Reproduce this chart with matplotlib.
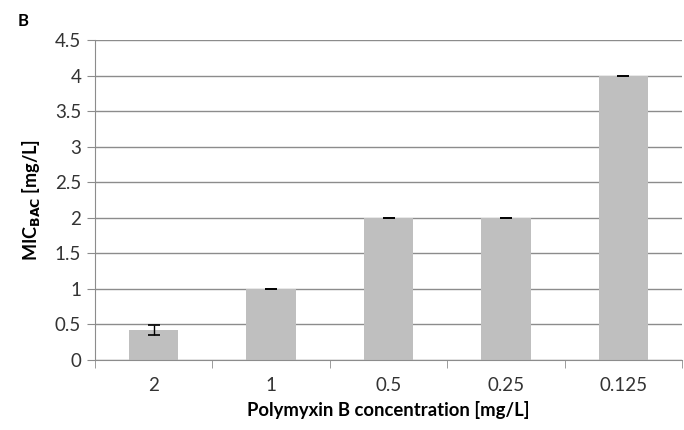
import matplotlib.pyplot as plt
import numpy as np

plt.rcParams['font.family'] = ['Lato', 'DejaVu Sans']

concentrations = ['2', '1', '0.5', '0.25', '0.125']
mic_values = [0.42, 1.0, 2.0, 2.0, 4.0]
mic_errors = [0.07, 0.0, 0.0, 0.0, 0.0]
y_ticks = [0, 0.5, 1, 1.5, 2, 2.5, 3, 3.5, 4, 4.5]

fig = plt.figure(figsize=(6.84, 4.30), dpi=100)
ax = fig.add_axes([0.139, 0.163, 0.858, 0.744])

x = np.arange(len(concentrations))
ax.bar(x, mic_values, width=0.42, color='#bfbfbf', zorder=2,
       yerr=mic_errors, capsize=4,
       error_kw={'ecolor': 'black', 'elinewidth': 1, 'capthick': 1.2})

ax.set_xlim(-0.5, len(concentrations) - 0.5)
ax.set_ylim(0, 4.5)
ax.set_yticks(y_ticks)
ax.set_yticklabels([f'{t:g}' for t in y_ticks], fontsize=13.5, color='#333333')
ax.yaxis.grid(True, color='#8c8c8c', linewidth=1, zorder=0)

ax.set_xticks(x)
ax.set_xticklabels(concentrations, fontsize=13.5, color='#333333')
ax.tick_params(axis='x', length=0, pad=12)
ax.set_xticks(np.arange(len(concentrations) + 1) - 0.5, minor=True)
ax.tick_params(axis='x', which='minor', length=6, color='#8c8c8c')
ax.tick_params(axis='y', length=6, color='#8c8c8c', pad=4)

for side in ['top', 'right']:
    ax.spines[side].set_visible(False)
for side in ['left', 'bottom']:
    ax.spines[side].set_color('#8c8c8c')

ax.set_xlabel('Polymyxin B concentration [mg/L]', fontsize=13.3, fontweight='bold', labelpad=5)
ax.set_ylabel(r'MIC$_{\mathbf{BAC}}$ [mg/L]', fontsize=13, fontweight='bold', labelpad=9)
fig.text(0.026, 0.94, 'B', fontsize=12, fontweight='bold')

plt.savefig('out.png', dpi=100)
